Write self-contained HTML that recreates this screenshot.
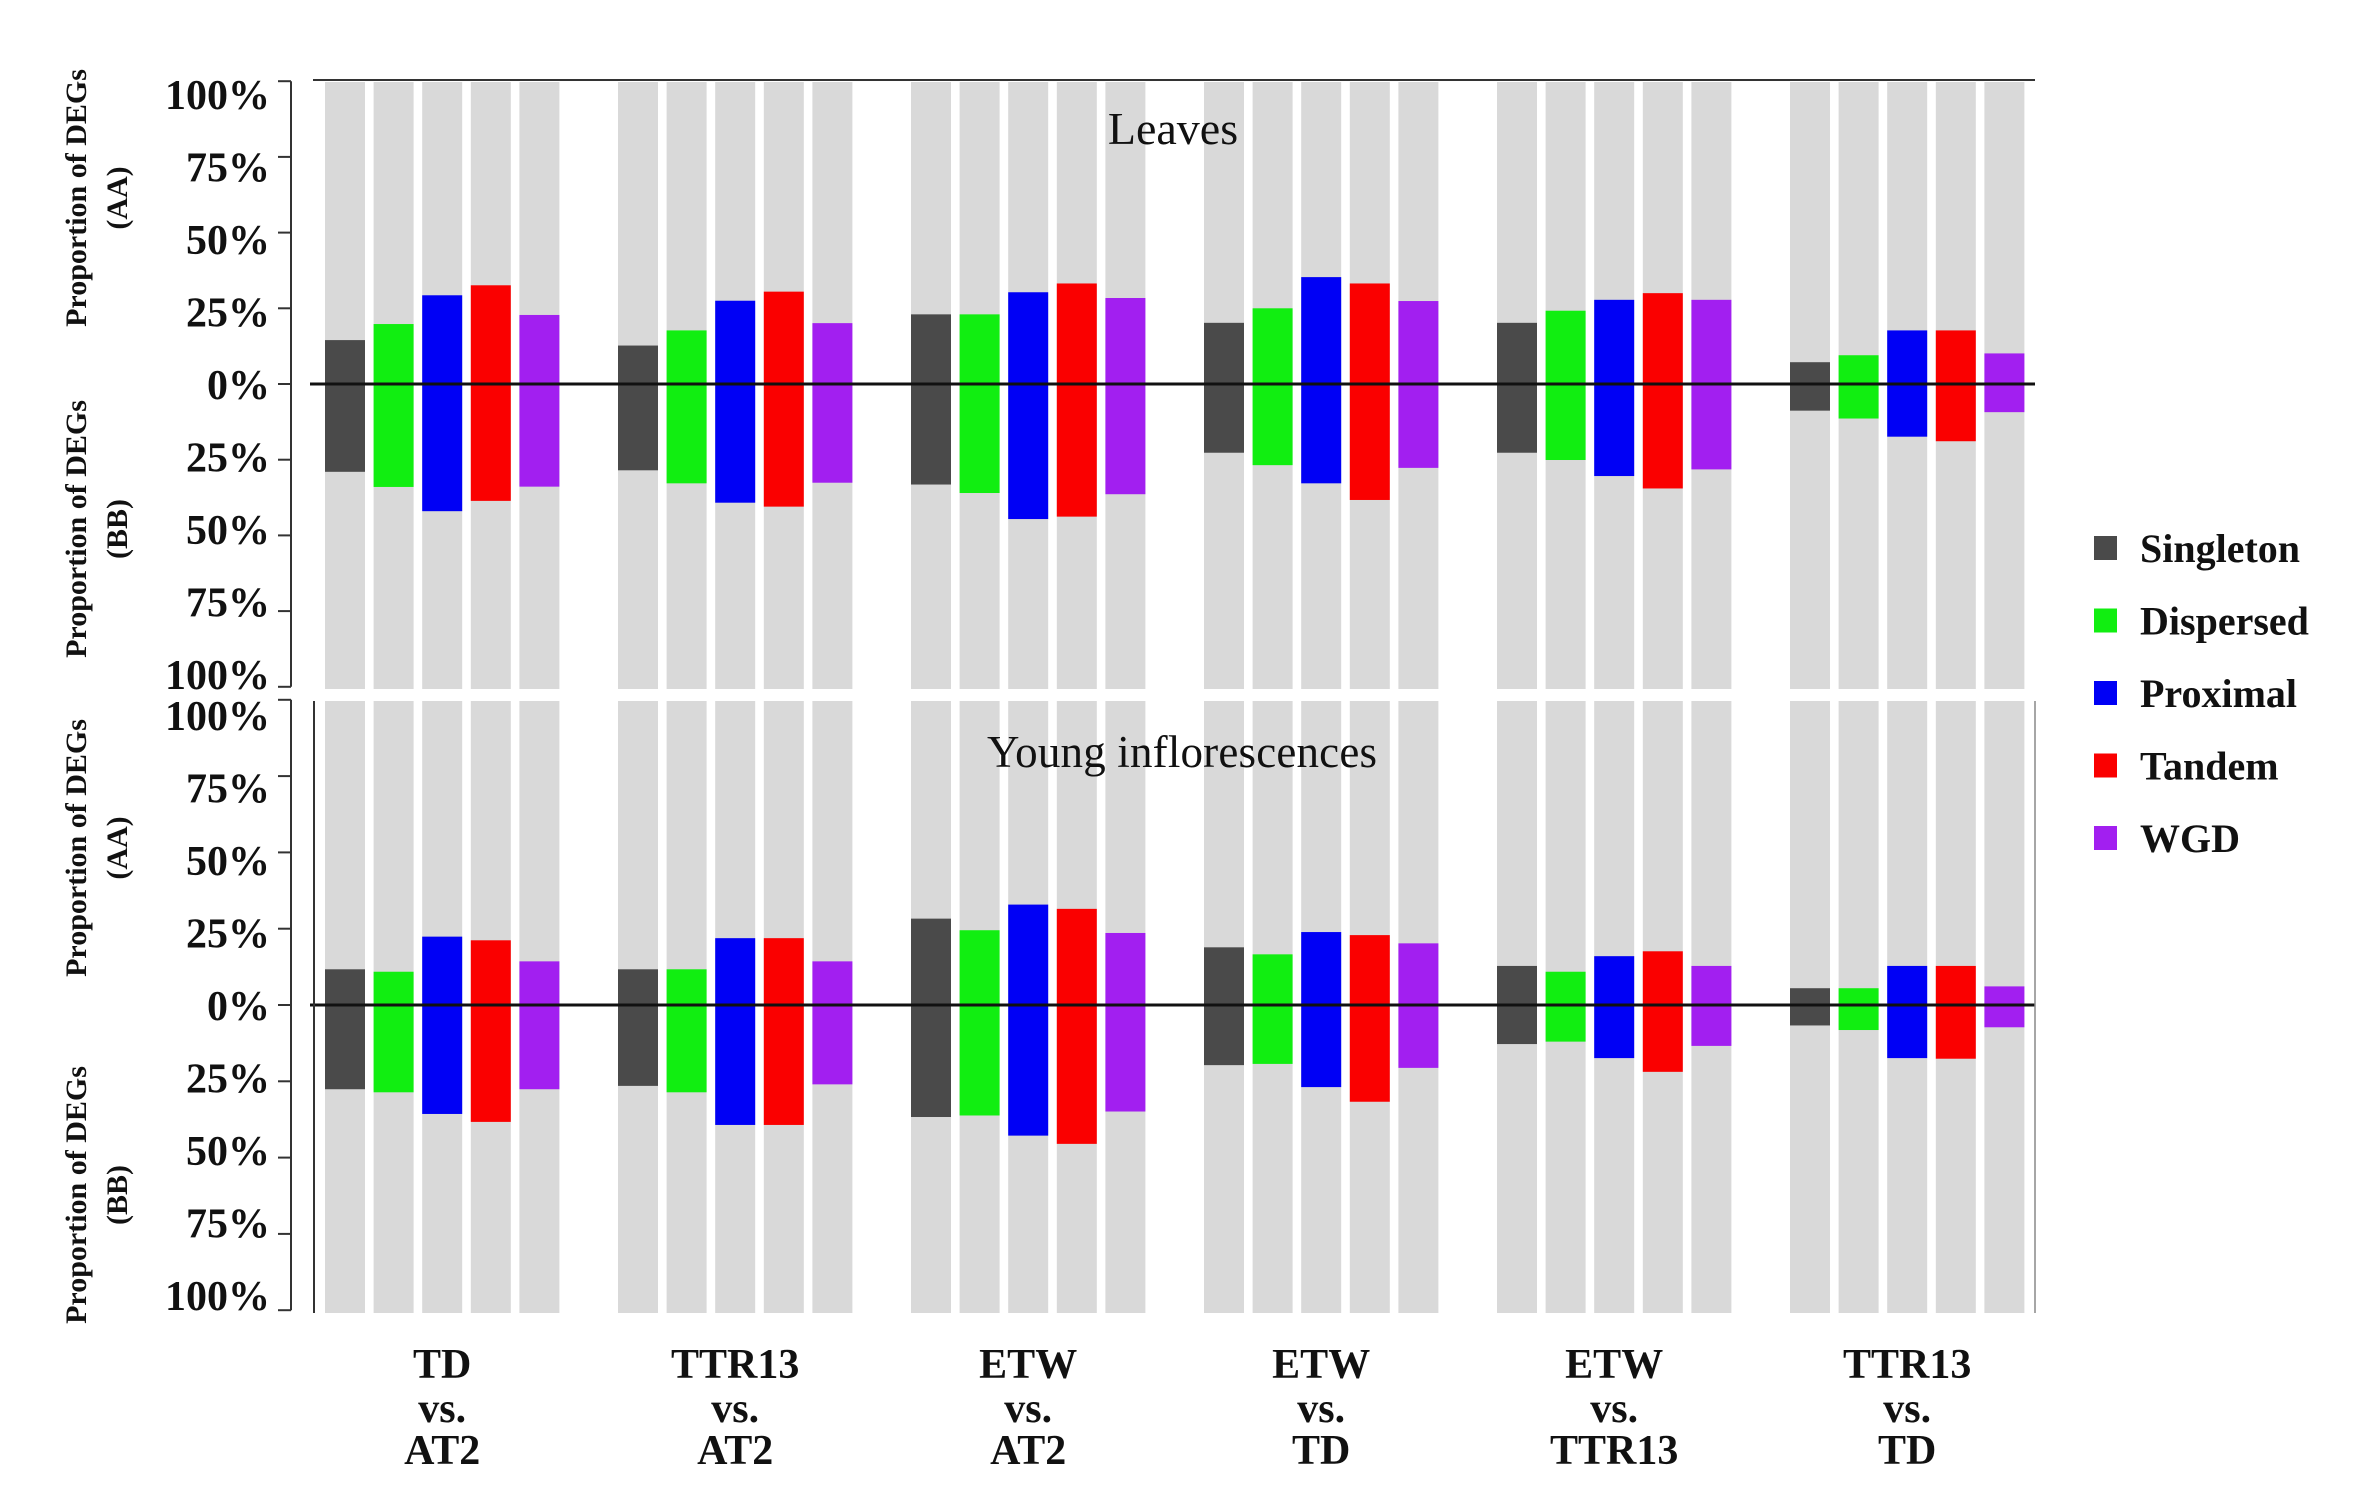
<!DOCTYPE html>
<html><head><meta charset="utf-8"><style>
html,body{margin:0;padding:0;background:#fff;}
svg{display:block;font-family:"Liberation Serif",serif;}
</style></head><body>
<svg id="s" width="2371" height="1510" viewBox="0 0 2371 1510" xmlns="http://www.w3.org/2000/svg">
<rect width="2371" height="1510" fill="#fff"/>
<g id="g"></g>
<text x="1173" y="144" font-size="46" text-anchor="middle" fill="#111">Leaves</text>
<text x="987" y="767" font-size="45" fill="#111" textLength="390">Young  inflorescences</text>
</svg>
<script>
(function(){
const NS="http://www.w3.org/2000/svg",g=document.getElementById('g');
function el(t,a,txt){const e=document.createElementNS(NS,t);for(const k in a)e.setAttribute(k,a[k]);if(txt!=null)e.textContent=txt;g.appendChild(e);return e;}
const cols=['#4a4a4a','#11ee11','#0000f5','#fa0000','#a21ff0'];
const starts=[325,618,911,1204,1497,1790],pitch=48.6,bw=40;
const topD=[[[14.5,29],[19.8,34],[29.3,42],[32.6,38.6],[22.8,33.9]],
[[12.7,28.5],[17.7,32.8],[27.5,39.2],[30.5,40.5],[20.1,32.6]],
[[23,33.2],[23,36],[30.3,44.6],[33.2,43.8],[28.4,36.4]],
[[20.2,22.7],[25,26.8],[35.3,32.8],[33.2,38.3],[27.4,27.7]],
[[20.2,22.7],[24.2,25.1],[27.8,30.4],[30,34.5],[27.8,28.2]],
[[7.2,8.8],[9.5,11.4],[17.7,17.4],[17.7,18.9],[10.1,9.3]]];
const botD=[[[11.7,27.6],[10.9,28.6],[22.4,35.7],[21.2,38.3],[14.3,27.6]],
[[11.7,26.5],[11.7,28.6],[21.9,39.3],[21.9,39.3],[14.3,26]],
[[28.3,36.7],[24.5,36.2],[32.9,42.8],[31.5,45.5],[23.6,34.9]],
[[18.9,19.7],[16.6,19.3],[23.9,26.9],[22.9,31.7],[20.2,20.6]],
[[12.8,12.8],[10.9,12],[16,17.4],[17.6,21.9],[12.8,13.4]],
[[5.5,6.7],[5.5,8.2],[12.8,17.4],[12.8,17.6],[6.1,7.3]]];
function panel(data,z,u,gt,gb){
  starts.forEach((s,i)=>{for(let k=0;k<5;k++){const x=s+k*pitch;
    el('rect',{x:x,y:gt,width:bw,height:gb-gt,fill:'#d9d9d9'});
    const a=data[i][k][0],b=data[i][k][1];const y1=z-a*u/25,y2=z+b*u/25;
    el('rect',{x:x,y:y1,width:bw,height:y2-y1,fill:cols[k]});}});
  el('line',{x1:310,y1:z,x2:2035,y2:z,stroke:'#111','stroke-width':3});
  el('line',{x1:291,y1:z-4*u,x2:291,y2:z+4*u,stroke:'#333','stroke-width':2});
  const lab=['100%','75%','50%','25%','0%','25%','50%','75%','100%'];
  for(let j=0;j<9;j++){const y=z+(j-4)*u;
    el('line',{x1:278,y1:y,x2:291,y2:y,stroke:'#333','stroke-width':2});
    el('text',{x:270,y:z+(j-4)*72.5+15,'font-size':42,'font-weight':'bold','text-anchor':'end',fill:'#111'},lab[j]);}
}
panel(topD,384,75.7,82,689);
panel(botD,1005,76.3,701,1313);
el('line',{x1:313,y1:80,x2:2035,y2:80,stroke:'#333','stroke-width':2});
el('line',{x1:314,y1:701,x2:314,y2:1313,stroke:'#333','stroke-width':2});
el('line',{x1:2035,y1:701,x2:2035,y2:1313,stroke:'#888','stroke-width':1.5});
[[198,'(AA)'],[529,'(BB)'],[848,'(AA)'],[1195,'(BB)']].forEach(function(p){
  const cy=p[0],t=p[1];
  el('text',{x:0,y:0,'font-size':30,'font-weight':'bold','text-anchor':'middle',fill:'#111',transform:'translate(86,'+cy+') rotate(-90)'},'Proportion of DEGs');
  el('text',{x:0,y:0,'font-size':30,'font-weight':'bold','text-anchor':'middle',fill:'#111',transform:'translate(127,'+cy+') rotate(-90)'},t);
});
const xl=[['TD','AT2'],['TTR13','AT2'],['ETW','AT2'],['ETW','TD'],['ETW','TTR13'],['TTR13','TD']];
starts.forEach((s,i)=>{const cx=s+2*pitch+bw/2;
  el('text',{x:cx,y:1378,'font-size':42,'font-weight':'bold','text-anchor':'middle',fill:'#111'},xl[i][0]);
  el('text',{x:cx,y:1422,'font-size':42,'font-weight':'bold','text-anchor':'middle',fill:'#111'},'vs.');
  el('text',{x:cx,y:1464,'font-size':42,'font-weight':'bold','text-anchor':'middle',fill:'#111'},xl[i][1]);});
['Singleton','Dispersed','Proximal','Tandem','WGD'].forEach((t,k)=>{const y=548+k*72.5;
  el('rect',{x:2094,y:y-12,width:23,height:24,fill:cols[k]});
  el('text',{x:2140,y:y+14,'font-size':40,'font-weight':'bold',fill:'#111'},t);});
})();
</script>
</body></html>
